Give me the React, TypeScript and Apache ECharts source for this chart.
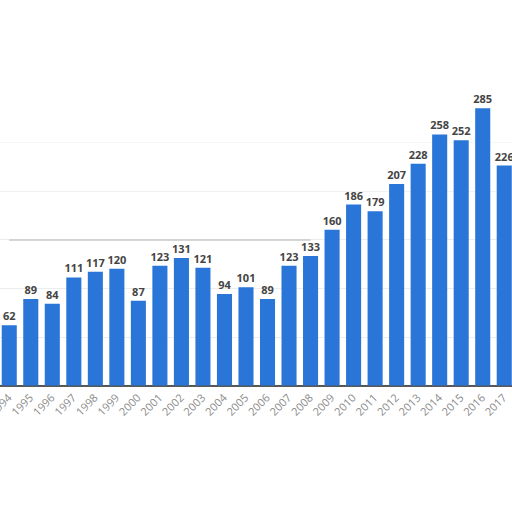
import * as echarts from "echarts";
import { useEffect, useRef } from "react";

const years = [
  "1994", "1995", "1996", "1997", "1998", "1999", "2000", "2001",
  "2002", "2003", "2004", "2005", "2006", "2007", "2008", "2009",
  "2010", "2011", "2012", "2013", "2014", "2015", "2016", "2017",
];
const counts = [
  62, 89, 84, 111, 117, 120, 87, 123, 131, 121, 94, 101, 89, 123, 133, 160,
  186, 179, 207, 228, 258, 252, 285, 226,
];

const App = () => {
  const chartRef = useRef(null);

  useEffect(() => {
    if (chartRef.current) {
      const myChart = echarts.init(chartRef.current, null, { renderer: "svg" });

      const option = {
        animation: false,
        grid: {
          left: -1.5,
          right: -3,
          top: 93.6,
          bottom: 126.5,
          containLabel: false,
          outerBoundsMode: "none",
        },
        xAxis: {
          type: "category",
          data: years,
          axisLine: { lineStyle: { color: "#222", width: 1.5 } },
          axisTick: { show: false },
          axisLabel: {
            rotate: 45,
            color: "#8a8a8a",
            fontSize: 11,
            fontFamily: "Open Sans",
            margin: 10,
            interval: 0,
          },
        },
        yAxis: {
          type: "value",
          min: 0,
          max: 300,
          interval: 50,
          axisLabel: { show: false },
          axisLine: { show: false },
          axisTick: { show: false },
          splitLine: {
            lineStyle: {
              // no line at the top (300)
              color: ["#dadada", "#dadada", "#dadada", "#dadada", "#e4e4e4", "#eeeeee", "transparent"],
              type: "dotted",
              width: 1,
            },
          },
        },
        series: [
          {
            type: "bar",
            data: counts,
            barWidth: "70%",
            itemStyle: { color: "#2a76d8" },
            label: {
              show: true,
              position: "top",
              distance: 4,
              color: "#444",
              fontSize: 11,
              fontWeight: "bold",
              fontFamily: "Open Sans",
            },
            markLine: {
              silent: true,
              symbol: "none",
              label: { show: false },
              lineStyle: { color: "#c8c8c8", type: "solid", width: 1.5 },
              data: [[{ coord: ["1994", 150] }, { coord: ["2008", 150] }]],
            },
          },
        ],
      };

      myChart.setOption(option);

      return () => {
        myChart.dispose();
      };
    }
  }, []);

  return (
    <div
      ref={chartRef}
      style={{ position: "fixed", left: 0, top: 0, width: "512px", height: "512px", background: "#fff" }}
    />
  );
};

export default App;
